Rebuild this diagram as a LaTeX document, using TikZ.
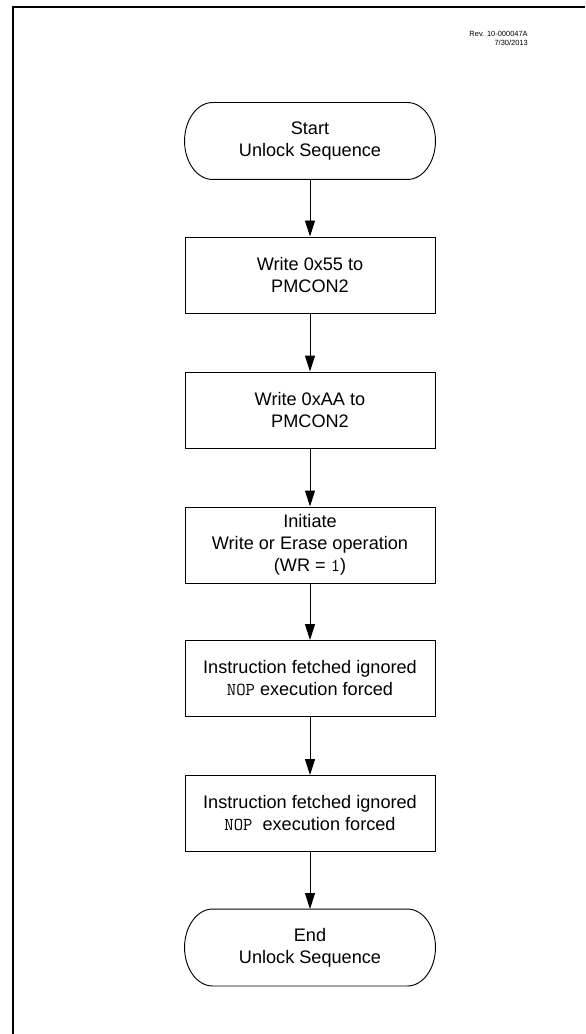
\documentclass[tikz,border=0pt]{standalone}
\usepackage{fontspec}
\setmainfont{Liberation Sans}
\usetikzlibrary{arrows.meta,calc}

\begin{document}
\begin{tikzpicture}[x=0.75pt,y=0.75pt,yscale=-1,xscale=1,
  procbox/.style={draw, line width=0.7pt, minimum width=187.5pt, minimum height=57pt, inner sep=0pt, align=center, font=\fontsize{13.6}{16.5}\selectfont},
  termbox/.style={procbox, draw=none},
  flowarrow/.style={line width=0.7pt, -{Triangle[length=12pt,width=7.5pt]}}]
\useasboundingbox (0,0) rectangle (585,1034);

%page frame
\draw [line width=1.3pt] (13,1034) -- (13,6.7) -- (585,6.7) ;

%revision note
\node [anchor=east, align=right, inner sep=0pt, font=\fontsize{5.6}{6.75}\selectfont] (rev) at (528,38.5) {Rev. 10-000047A\\7/30/2013};

%terminators and steps
\node [termbox] (st) at (310,141) {Start\\Unlock Sequence};
\node [procbox] (w55) at (310,275) {Write 0x55 to\\PMCON2};
\node [procbox] (waa) at (310,410) {Write 0xAA to\\PMCON2};
\node [procbox] (init) at (310,545) {Initiate\\Write or Erase operation\\(WR = \texttt{1})};
\node [procbox] (nop1) at (310,678.5) {Instruction fetched ignored\\\texttt{NOP} execution forced};
\node [procbox] (nop2) at (310,813.5) {Instruction fetched ignored\\\texttt{NOP}\ \ execution forced};
\node [termbox] (en) at (310,947.5) {End\\Unlock Sequence};

%rounded outline of the terminators
\foreach \n in {st,en}
  \draw [line width=0.7pt] ($(\n.north west)+(28,0)$) -- ($(\n.north east)+(-28,0)$) .. controls +(15.5,0) and +(0,-21) .. (\n.east) .. controls +(0,21) and +(15.5,0) .. ($(\n.south east)+(-28,0)$) -- ($(\n.south west)+(28,0)$) .. controls +(-15.5,0) and +(0,21) .. (\n.west) .. controls +(0,-21) and +(-15.5,0) .. ($(\n.north west)+(28,0)$) -- cycle ;

%connectors
\draw [flowarrow] (st) -- (w55) ;
\draw [flowarrow] (w55) -- (waa) ;
\draw [flowarrow] (waa) -- (init) ;
\draw [flowarrow] (init) -- (nop1) ;
\draw [flowarrow] (nop1) -- (nop2) ;
\draw [flowarrow] (nop2) -- (en) ;
\end{tikzpicture}
\end{document}
